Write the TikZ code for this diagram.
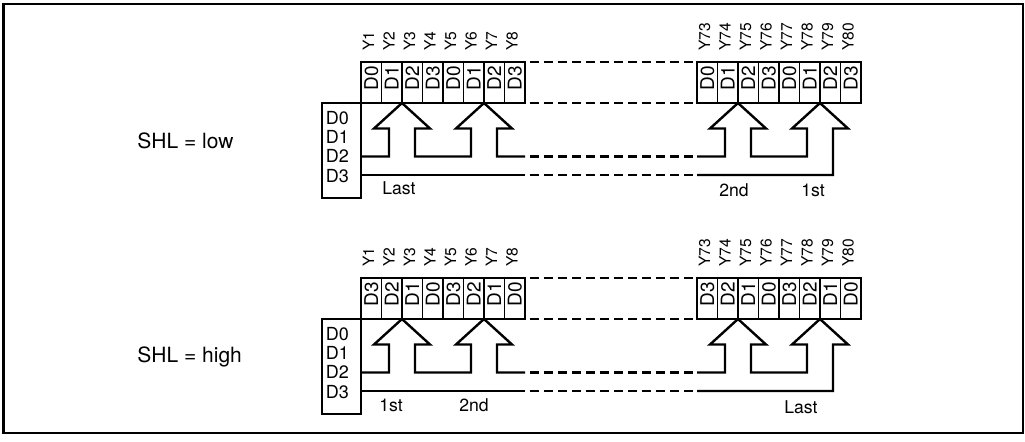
\documentclass[tikz,border=0pt]{standalone}
\usepackage{fontspec}
\setmainfont{TeX Gyre Heros}
\usetikzlibrary{calc,positioning}
\tikzset{%
	frame/.style   = {line width=1pt},
	reg/.style     = {draw, rectangle, line width=1.4pt, minimum width=82pt, minimum height=20.5pt, inner sep=0pt, outer sep=0pt},
	inbox/.style   = {draw, rectangle, line width=1.4pt, minimum width=19.5pt, minimum height=47.5pt, inner sep=0pt, outer sep=0pt},
	cellline/.style= {line width=0.9pt},
	bus/.style     = {line width=1.2pt, line join=miter},
	busdash/.style = {line width=1.4pt, dash pattern=on 4.5pt off 2.5pt, shorten <=2.5pt, shorten >=2pt},
	cell/.style    = {rotate=90, anchor=west, inner sep=0pt, font=\fontsize{9.5}{9.5}\selectfont},
	ylab/.style    = {rotate=90, anchor=west, inner sep=0pt, font=\fontsize{7.8}{7.8}\selectfont},
	dlab/.style    = {anchor=west, inner sep=0pt, font=\fontsize{9}{10}\selectfont},
	note/.style    = {inner sep=0pt, font=\fontsize{8.8}{10}\selectfont},
	mode/.style    = {anchor=west, inner sep=0pt, font=\fontsize{10.5}{12}\selectfont},
}
% one up-arrow of the shift path, starting at the left foot of the shaft
\newcommand{\shiftarrow}{-- ++(0,-28) -- ++(-15,0) -- ++(28,-25.5) -- ++(28,25.5) -- ++(-15,0) -- ++(0,28)}

\begin{document}
\begin{tikzpicture}[x=0.5pt,y=-0.5pt]
	\useasboundingbox (0,0) rectangle (1025,441);
	\draw[frame] (3.5,3.5) rectangle (1022.5,432.5);  % outer frame

	\foreach \s/\dy/\cells in {a/0/{D0,D1,D2,D3,D0,D1,D2,D3}, b/216/{D3,D2,D1,D0,D3,D2,D1,D0}}{
	\begin{scope}[shift={(0,\dy)}]
		\node[reg, anchor=north west] (regL\s) at (361,62) {};  % Y1..Y8
		\node[reg, anchor=north west] (regR\s) at (697,62) {};  % Y73..Y80
		\node[inbox, anchor=north east] (in\s) at (regL\s.south west) {};
		\coordinate (dtwo\s) at (0,156.5);
		\coordinate (dthree\s) at (0,175);
		\foreach \i in {1,...,7}{
			\draw[cellline] (361+\i*20.5,62) -- ++(0,41);
			\draw[cellline] (697+\i*20.5,62) -- ++(0,41);
		}
		\foreach \t [count=\i] in \cells{
			\node[cell] (cl\s\i) at (361+\i*20.5-10.25,91) {\t};
			\node[cell] (cr\s\i) at (697+\i*20.5-10.25,91) {\t};
		}
		\foreach \i [evaluate=\i as \n using int(72+\i)] in {1,...,8}{
			\node[ylab] (yl\s\i) at (361+\i*20.5-13,51) {Y\i};
			\node[ylab] (yr\s\i) at (697+\i*20.5-13,51) {Y\n};
		}
		\foreach \t/\yy in {D0/118, D1/137, D2/156, D3/176}
			\node[dlab] (\t\s) at (325.5,\yy) {\t};
		% shift paths
		\draw[bus] (in\s.east |- dtwo\s) -- (389,156.5) \shiftarrow -- (471,156.5) \shiftarrow -- (regL\s.east |- dtwo\s);
		\draw[bus] (in\s.east |- dthree\s) -- (regL\s.east |- dthree\s);
		\draw[bus] (regR\s.west |- dtwo\s) -- (725,156.5) \shiftarrow -- (807,156.5) \shiftarrow -- ++(0,18.5) -- (regR\s.west |- dthree\s);
		% the part in between
		\draw[busdash] (regL\s.north east) -- (regR\s.north west);
		\draw[busdash] (regL\s.south east) -- (regR\s.south west);
		\draw[busdash] (regL\s.east |- dtwo\s) -- (regR\s.west |- dtwo\s);
		\draw[busdash] (regL\s.east |- dthree\s) -- (regR\s.west |- dthree\s);
	\end{scope}
	}

	\node[mode] (shla) at (137,141) {SHL = low};
	\node[note] (lasta) at (399,188) {Last};
	\node[note] (nda) at (734,190) {2nd};
	\node[note] (sta) at (813,190) {1st};

	\node[mode] (shlb) at (137,357) {SHL = high};
	\node[note] (stb) at (391,405) {1st};
	\node[note] (ndb) at (474,405) {2nd};
	\node[note] (lastb) at (801,407) {Last};
\end{tikzpicture}
\end{document}
